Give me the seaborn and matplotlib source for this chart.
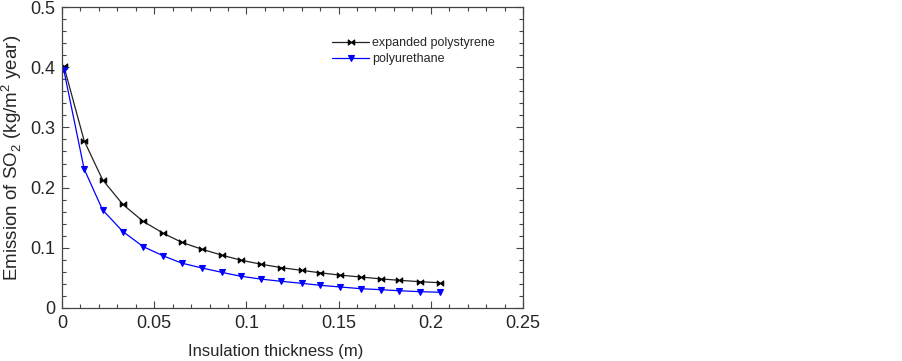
import numpy as np
import pandas as pd
import matplotlib
matplotlib.use("Agg")
import matplotlib.pyplot as plt
from matplotlib.path import Path
from matplotlib.ticker import MultipleLocator
import seaborn as sns

thickness = [0.001, 0.012, 0.022, 0.033, 0.044, 0.055, 0.065, 0.076, 0.087, 0.097,
             0.108, 0.119, 0.130, 0.140, 0.151, 0.162, 0.173, 0.183, 0.194, 0.205]
eps = [0.402, 0.278, 0.213, 0.172, 0.144, 0.124, 0.109, 0.0975, 0.0875, 0.0795,
       0.0727, 0.067, 0.0625, 0.0585, 0.0545, 0.0515, 0.0483, 0.046, 0.0437, 0.042]
pur = [0.395, 0.231, 0.163, 0.127, 0.102, 0.0865, 0.0745, 0.0664, 0.059, 0.0527,
       0.048, 0.0443, 0.041, 0.0377, 0.0349, 0.0321, 0.0304, 0.0287, 0.0271, 0.0262]
labels = ["expanded polystyrene", "polyurethane"]
xticks = [0, 0.05, 0.1, 0.15, 0.2, 0.25]
xticklabels = ["0", "0.05", "0.1", "0.15", "0.2", "0.25"]
yticks = [0, 0.1, 0.2, 0.3, 0.4, 0.5]
yticklabels = ["0", "0.1", "0.2", "0.3", "0.4", "0.5"]

sns.set_style("ticks")
plt.rcParams['font.family'] = ['Liberation Sans', 'DejaVu Sans']
plt.rcParams['mathtext.fontset'] = 'custom'
plt.rcParams['mathtext.rm'] = 'Liberation Sans'

fig = plt.figure(figsize=(9.03, 3.61), dpi=100)
ax = fig.add_axes([62/903, 1-308/361, 461/903, 301/361])

bowtie = Path([(-1, -0.8), (-1, 0.8), (0, 0), (1, 0.8), (1, -0.8), (0, 0), (-1, -0.8)],
              [Path.MOVETO, Path.LINETO, Path.LINETO, Path.LINETO, Path.LINETO,
               Path.LINETO, Path.CLOSEPOLY])

df = pd.DataFrame({"x": thickness, "eps": eps, "pur": pur})
sns.lineplot(data=df, x="x", y="eps", ax=ax, color="#222222", lw=0.9,
             marker=bowtie, markersize=4.6, markerfacecolor="black",
             markeredgecolor="black", markeredgewidth=0.8, label=labels[0])
sns.lineplot(data=df, x="x", y="pur", ax=ax, color="#0000ff", lw=0.9,
             marker="v", markersize=4.6, markerfacecolor="#0000ff",
             markeredgecolor="#0000ff", markeredgewidth=0.8, label=labels[1])

ax.set_xlim(0, 0.25)
ax.set_ylim(0, 0.5)
ax.set_xticks(xticks)
ax.set_xticklabels(xticklabels)
ax.set_yticks(yticks)
ax.set_yticklabels(yticklabels)
ax.xaxis.set_minor_locator(MultipleLocator(0.01))
ax.yaxis.set_minor_locator(MultipleLocator(0.02))
ax.tick_params(which="both", direction="in", top=True, right=True, labelsize=13,
               color="#444444", width=0.8)
ax.tick_params(which="major", length=5, pad=5)
ax.tick_params(which="minor", length=3)
for s in ax.spines.values():
    s.set_linewidth(0.9)
    s.set_color("#444444")

ax.set_xlabel("Insulation thickness (m)", fontsize=12)
ax.set_ylabel("Emission of SO$_2$ (kg/m$^2$ year)", fontsize=13.5)
ax.xaxis.set_label_coords((275.5 - 62) / 461, -(344 - 308) / 301)
ax.yaxis.set_label_coords((24 - 62) / 461, 0.5)

ax.legend(loc="upper left", bbox_to_anchor=((332 - 62) / 461, (308 - 37) / 301),
          frameon=False, fontsize=9, handlelength=2.96, handletextpad=0.24,
          labelspacing=0.32, borderpad=0, borderaxespad=0)

fig.savefig("out.png", dpi=100)
